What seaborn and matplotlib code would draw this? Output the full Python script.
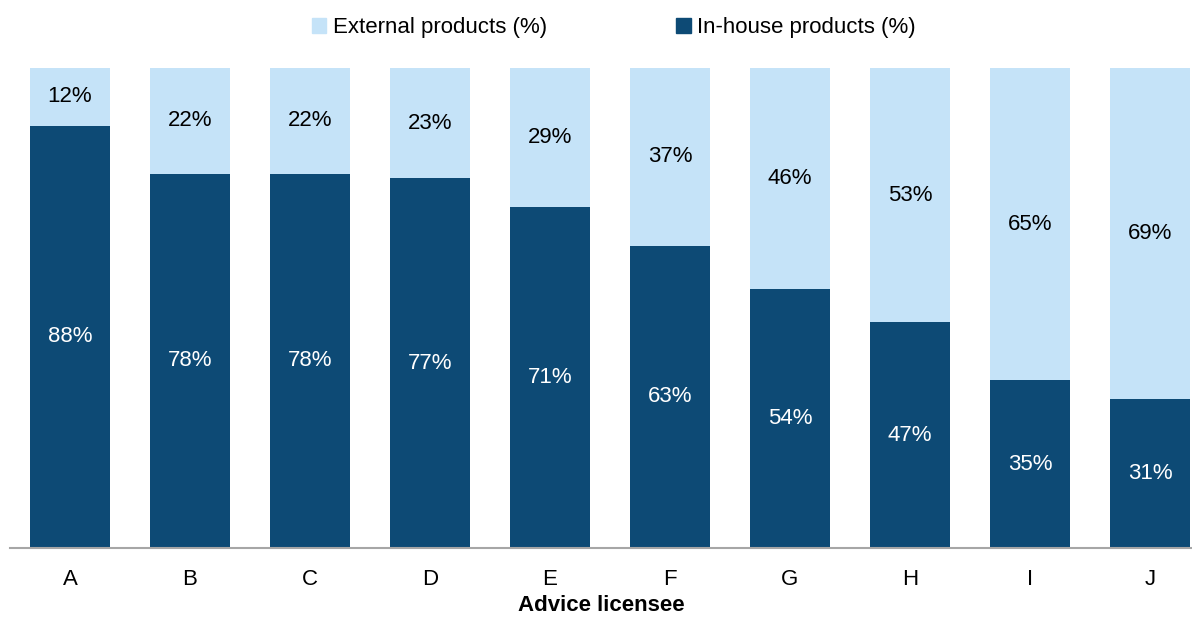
import pandas as pd
import numpy as np
import matplotlib
matplotlib.use('Agg')
import matplotlib.pyplot as plt
import seaborn as sns
from matplotlib.patches import Patch

# 資料
licensees = ['A', 'B', 'C', 'D', 'E', 'F', 'G', 'H', 'I', 'J']
in_house = [88, 78, 78, 77, 71, 63, 54, 47, 35, 31]
external = [12, 22, 22, 23, 29, 37, 46, 53, 65, 69]

dark = '#0D4A75'
light = '#C5E3F8'
fs = 16

sns.set_theme(style='white')
plt.rcParams['font.family'] = ['Liberation Sans', 'DejaVu Sans']
plt.rcParams['text.color'] = 'black'
plt.rcParams['axes.labelcolor'] = 'black'
plt.rcParams['xtick.color'] = 'black'

df = pd.DataFrame({'licensee': licensees, 'in_house': in_house, 'external': external})
df['total'] = df['in_house'] + df['external']

fig = plt.figure(figsize=(11.92, 6.18), dpi=100)
ax = fig.add_axes([10 / 1192, 70 / 618, 1 - 10 / 1192, 480 / 618])

# 堆疊長條：先畫總和（淺色），再畫自家產品（深色）
sns.barplot(data=df, x='licensee', y='total', color=light, width=0.667,
            saturation=1, linewidth=0, ax=ax)
sns.barplot(data=df, x='licensee', y='in_house', color=dark, width=0.667,
            saturation=1, linewidth=0, ax=ax)

# 數值標籤
for i, (a, b) in enumerate(zip(in_house, external)):
    ax.text(i, a / 2, f'{a}%', ha='center', va='center', color='white', fontsize=fs)
    ax.text(i, a + b / 2, f'{b}%', ha='center', va='center', color='black', fontsize=fs)

ax.set_xlim(-0.5, 9.35)
ax.set_ylim(0, 100)
ax.set_yticks([])
ax.set_ylabel('')
ax.set_xlabel('Advice licensee', fontsize=fs, fontweight='bold', labelpad=4)
ax.tick_params(axis='x', labelsize=fs, length=0, pad=15)
for s in ['top', 'right', 'left']:
    ax.spines[s].set_visible(False)
ax.spines['bottom'].set_color('#A6A6A6')
ax.spines['bottom'].set_linewidth(1.5)

handles = [Patch(color=light, label='External products (%)'),
           Patch(color=dark, label='In-house products (%)')]
fig.legend(handles=handles, loc='center', bbox_to_anchor=(0.515, 0.955), ncol=2,
           frameon=False, fontsize=fs, handlelength=0.65, handleheight=0.65,
           handletextpad=0.3, columnspacing=5.8)

plt.savefig('out.png', dpi=100)
plt.close()
